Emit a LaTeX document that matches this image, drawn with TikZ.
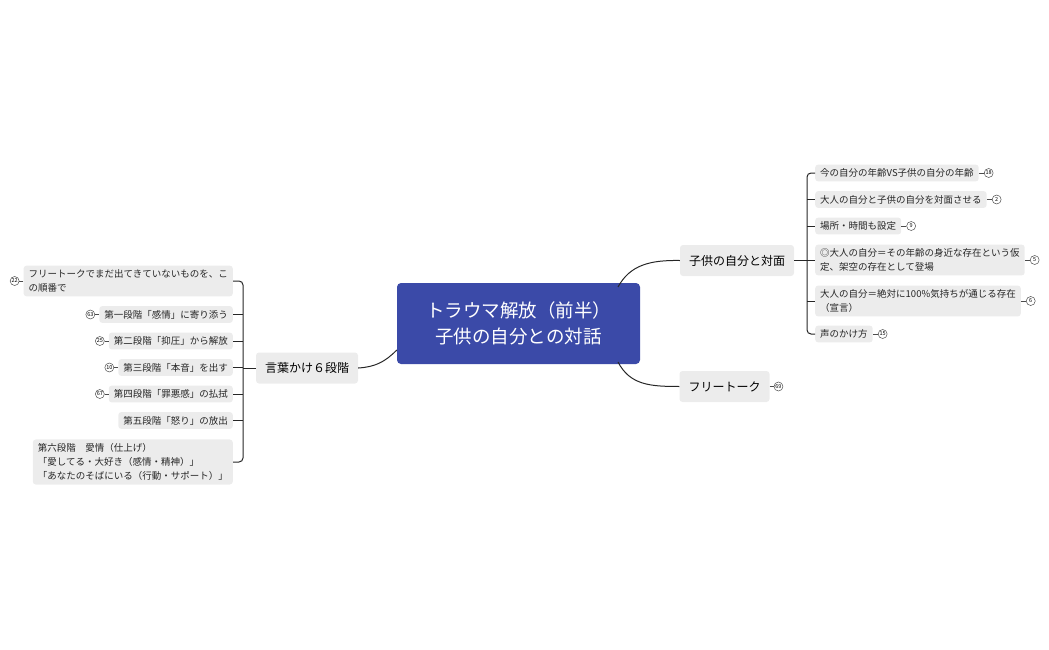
\documentclass[tikz,border=0pt]{standalone}
\usepackage{fontspec}
\setmainfont{Noto Sans CJK JP}
\usetikzlibrary{positioning}
\begin{document}
\begin{tikzpicture}[x=1pt,y=-1pt,
  leaf/.style={fill=gray!15,rounded corners=3pt,font=\fontsize{9.5}{14}\selectfont,inner xsep=5pt,inner ysep=4pt,align=left,text=black!85},
  br/.style={fill=gray!15,rounded corners=3pt,font=\fontsize{12}{14}\selectfont,inner xsep=9pt,minimum height=31pt},
  badge/.style={circle,draw=black!70,line width=0.5pt,inner sep=0.6pt,minimum size=9pt,font=\fontsize{5.5}{6}\selectfont},
  ln/.style={draw=black!85,line width=1pt},
  thin/.style={draw=black!70,line width=0.6pt}]
\useasboundingbox (0,0) rectangle (1049,650);
\node[fill={rgb,255:red,59;green,74;blue,168},rounded corners=4pt,minimum width=243pt,minimum height=81pt,text=white,font=\fontsize{18.5}{26}\selectfont,align=center] (c) at (518.5,323.5) {トラウマ解放（前半）\\子供の自分との対話};
\node[br] (r1) at (737,260.5) {子供の自分と対面};
\node[br] (r2) at (724.5,386.5) {フリートーク};
\node[br] (l1) at (307,368) {言葉かけ６段階};
\draw[ln] (618,287) .. controls (630,265) and (650,260) .. (r1.west);
\draw[ln] (618,362) .. controls (630,385) and (650,386.5) .. (r2.west);
\draw[ln] (c.west|-0,350) .. controls (385,362) and (375,367) .. (l1.east);
% right leaves
\foreach \n/\y/\t in {a/173/今の自分の年齢VS子供の自分の年齢, b/199.5/大人の自分と子供の自分を対面させる, c/226/場所・時間も設定, d/260/◎大人の自分＝その年齢の身近な存在という仮\\定、架空の存在として登場, e/301/大人の自分＝絶対に100\%気持ちが通じる存在\\（宣言）, f/334/声のかけ方}
  \node[leaf,anchor=west] (R\n) at (815,\y) {\t};
\foreach \n/\num in {a/18,b/2,c/9,d/5,e/6,f/15}{
  \node[badge,right=5pt of R\n.east] (B\n) {\num};
  \draw[thin] (R\n.east) -- (B\n.west);}
\draw[ln] (r1.east) -- (807,260.5);
\draw[ln,rounded corners=4pt] (Ra.west) -- (807,173) -- (807,334) -- (Rf.west);
\foreach \n in {b,c,d,e} \draw[ln] (807,0|-R\n.west) -- (R\n.west);
% left leaves
\node[leaf,anchor=east] (La) at (233,281) {フリートークでまだ出てきていないものを、こ\\の順番で};
\node[leaf,anchor=east] (Lb) at (233,314.5) {第一段階「感情」に寄り添う};
\node[leaf,anchor=east] (Lc) at (233,341) {第二段階「抑圧」から解放};
\node[leaf,anchor=east] (Ld) at (233,367.5) {第三段階「本音」を出す};
\node[leaf,anchor=east] (Le) at (233,394) {第四段階「罪悪感」の払拭};
\node[leaf,anchor=east] (Lf) at (233,420.5) {第五段階「怒り」の放出};
\node[leaf,anchor=east] (Lg) at (233,462) {第六段階　愛情（仕上げ）\\「愛してる・大好き（感情・精神）」\\「あなたのそばにいる（行動・サポート）」};
\foreach \n/\num in {a/22,b/63,c/25,d/10,e/67}{
  \node[badge,left=4pt of L\n.west] (C\n) {\num};
  \draw[thin] (L\n.west) -- (C\n.east);}
\draw[ln] (l1.west) -- (243,368);
\draw[ln,rounded corners=4pt] (La.east) -- (243,281) -- (243,462) -- (Lg.east);
\foreach \n in {b,c,d,e,f} \draw[ln] (243,0|-L\n.east) -- (L\n.east);
\node[badge,right=4pt of r2.east] (Br2) {69};
\draw[thin] (r2.east) -- (Br2.west);
\end{tikzpicture}
\end{document}
